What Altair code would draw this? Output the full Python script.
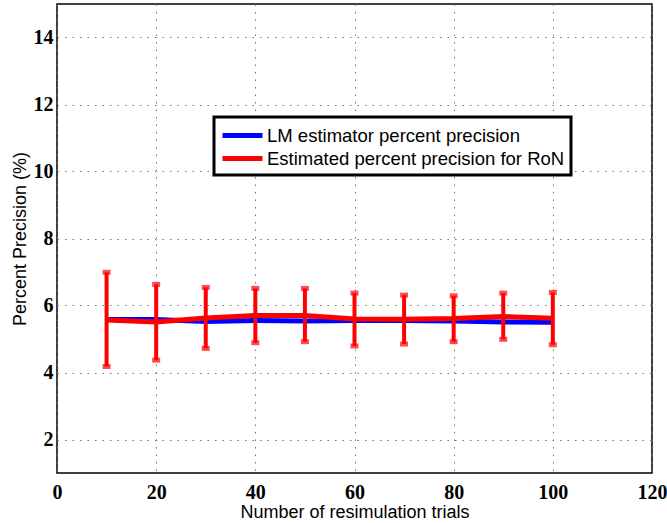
import altair as alt
import pandas as pd

# Resimulation trial counts on the x axis
trials = [10, 20, 30, 40, 50, 60, 70, 80, 90, 100]

# LM estimator percent precision
lm_precision = [5.58, 5.58, 5.52, 5.55, 5.54, 5.55, 5.55, 5.54, 5.51, 5.50]

# Estimated percent precision for RoN, with error-bar limits
ron_precision = [5.57, 5.51, 5.63, 5.70, 5.70, 5.60, 5.59, 5.61, 5.67, 5.62]
ron_low = [4.18, 4.37, 4.72, 4.89, 4.92, 4.79, 4.85, 4.92, 4.99, 4.83]
ron_high = [6.99, 6.63, 6.54, 6.51, 6.51, 6.37, 6.31, 6.29, 6.37, 6.39]

series_names = ["LM estimator percent precision", "Estimated percent precision for RoN"]
series_colors = ["#0000ff", "#ff0000"]

lm_df = pd.DataFrame({"trials": trials, "precision": lm_precision, "series": series_names[0]})
ron_df = pd.DataFrame({
    "trials": trials,
    "precision": ron_precision,
    "low": ron_low,
    "high": ron_high,
    "series": series_names[1],
})

x_scale = alt.Scale(domain=[0, 120], nice=False, zero=False)
y_scale = alt.Scale(domain=[1, 15], nice=False, zero=False)

tick_font = "Liberation Sans Narrow"
text_font = "Liberation Sans"

x_axis = alt.Axis(
    title="Number of resimulation trials",
    values=[0, 20, 40, 60, 80, 100, 120],
    format="d",
    ticks=False,
    domain=False,
    grid=True,
    labelFlush=False,
    labelPadding=9,
    titlePadding=1,
)
y_axis = alt.Axis(
    title="Percent Precision (%)",
    values=[2, 4, 6, 8, 10, 12, 14],
    format="d",
    ticks=False,
    domain=False,
    grid=True,
    labelFlush=False,
    labelPadding=4,
    titlePadding=4,
)

# Legend uses a wide horizontal stroke as its swatch so rows stay compact
color = alt.Color(
    "series:N",
    scale=alt.Scale(domain=series_names, range=series_colors),
    legend=alt.Legend(
        title=None,
        orient="none",
        legendX=157,
        legendY=113,
        symbolType="M-2,0H2",
        symbolStrokeWidth=5,
        symbolSize=400,
        symbolOffset=10,
        labelFontSize=18.5,
        labelFont=text_font,
        labelColor="black",
        labelExpr="datum.label + '\u00a0\u00a0\u00a0\u00a0'",
        strokeColor="black",
        fillColor="white",
        padding=6,
        rowPadding=0,
        labelLimit=400,
        labelOffset=12,
    ),
)

lm_line = alt.Chart(lm_df).mark_line(strokeWidth=5).encode(
    x=alt.X("trials:Q", scale=x_scale, axis=x_axis),
    y=alt.Y("precision:Q", scale=y_scale, axis=y_axis),
    color=color,
)

ron_line = alt.Chart(ron_df).mark_line(strokeWidth=5).encode(
    x=alt.X("trials:Q", scale=x_scale),
    y=alt.Y("precision:Q", scale=y_scale),
    color=color,
)

ron_bars = alt.Chart(ron_df).mark_rule(color="#ff0000", strokeWidth=4).encode(
    x=alt.X("trials:Q", scale=x_scale),
    y=alt.Y("low:Q", scale=y_scale),
    y2="high:Q",
)

cap_low = alt.Chart(ron_df).mark_tick(color="#ff0000", orient="horizontal", size=8, thickness=5).encode(
    x=alt.X("trials:Q", scale=x_scale),
    y=alt.Y("low:Q", scale=y_scale),
)
cap_high = alt.Chart(ron_df).mark_tick(color="#ff0000", orient="horizontal", size=8, thickness=5).encode(
    x=alt.X("trials:Q", scale=x_scale),
    y=alt.Y("high:Q", scale=y_scale),
)

chart = (
    alt.layer(lm_line, ron_line, ron_bars, cap_low, cap_high)
    .properties(
        width=595,
        height=469,
        background="white",
        autosize=alt.AutoSizeParams(type="none"),
        padding={"left": 57, "top": 4, "right": 15, "bottom": 50},
    )
    .configure_view(stroke="black", strokeWidth=1.5, fill="white")
    .configure_legend(strokeWidth=3)
    .configure_axis(
        labelFont=tick_font,
        labelFontWeight="bold",
        labelFontSize=20,
        labelColor="black",
        titleFont=text_font,
        titleFontWeight="normal",
        titleFontSize=18,
        titleColor="black",
        gridColor="#777777",
        gridDash=[1.5, 6],
        gridWidth=1,
        gridOpacity=1,
    )
)

chart.save("out.html", embed_options={"renderer": "svg", "actions": False})
